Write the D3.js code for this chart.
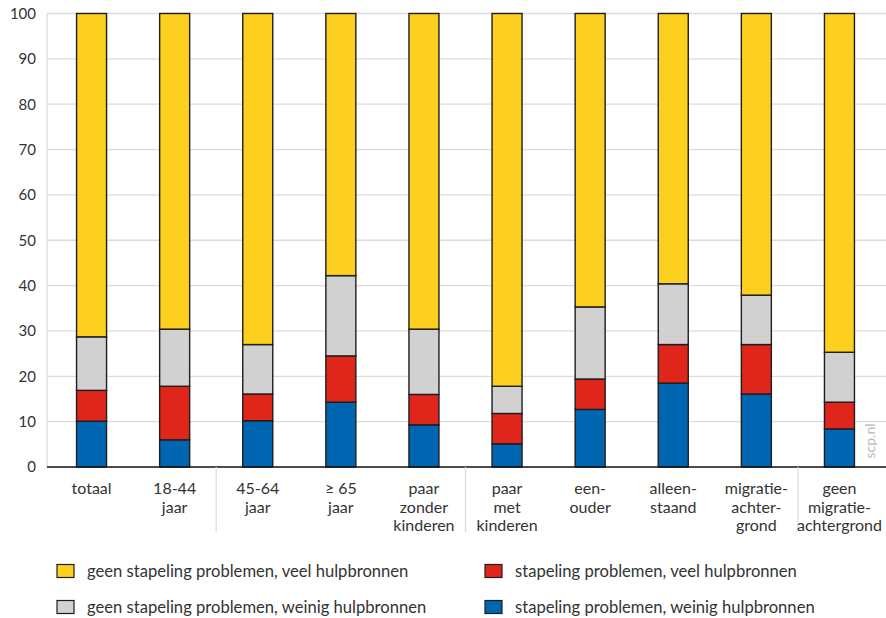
<!DOCTYPE html>
<html>
<head>
<meta charset="utf-8">
<script src="https://cdn.jsdelivr.net/npm/d3@7"></script>
<style>
  html, body { margin: 0; padding: 0; background: #fff; }
  svg { display: block; font-family: Lato, "Open Sans", sans-serif; }
</style>
</head>
<body>
<svg id="chart" width="886" height="618"></svg>
<script>
// ---- data ----
const categories = ["totaal", "18-44\njaar", "45-64\njaar", "≥ 65\njaar", "paar\nzonder\nkinderen",
  "paar\nmet\nkinderen", "een-\nouder", "alleen-\nstaand", "migratie-\nachter-\ngrond", "geen\nmigratie-\nachtergrond"];
const seriesNames = [
  "stapeling problemen, weinig hulpbronnen",
  "stapeling problemen, veel hulpbronnen",
  "geen stapeling problemen, weinig hulpbronnen",
  "geen stapeling problemen, veel hulpbronnen"
];
const blueValues   = [10.1, 6.0, 10.2, 14.3, 9.3, 5.1, 12.7, 18.5, 16.1, 8.4];
const redValues    = [6.8, 11.8, 5.9, 10.2, 6.7, 6.7, 6.7, 8.5, 10.9, 5.9];
const greyValues   = [11.8, 12.6, 10.9, 17.7, 14.4, 6.0, 15.9, 13.4, 10.9, 11.0];
const yellowValues = [71.3, 69.6, 73.0, 57.8, 69.6, 82.2, 64.7, 59.6, 62.1, 74.7];
const yTicks = [0, 10, 20, 30, 40, 50, 60, 70, 80, 90, 100];
const groupBreaks = [1, 4, 8]; // separator after these category indices

const colors = ["#0066b2", "#e0251b", "#d0d1d0", "#fdd020"];

// ---- layout ----
const svg = d3.select("#chart");
const plotLeft = 47, plotRight = 886, y0 = 467, y100 = 13.5;
const x = d3.scaleBand().domain(d3.range(categories.length)).range([50, 881]).paddingInner(0).paddingOuter(0);
const y = d3.scaleLinear().domain([0, 100]).range([y0, y100]);
const barW = 30;

// gridlines
svg.append("g").selectAll("line").data(yTicks.filter(d => d > 0)).join("line")
  .attr("x1", plotLeft).attr("x2", plotRight)
  .attr("y1", d => y(d)).attr("y2", d => y(d))
  .attr("stroke", "#dcdcdc").attr("stroke-width", 1.3);

// y axis vertical line
svg.append("line").attr("x1", plotLeft).attr("x2", plotLeft).attr("y1", y(100)).attr("y2", y0)
  .attr("stroke", "#dcdcdc").attr("stroke-width", 1.3);

// y axis labels via d3 axis
const yAxis = svg.append("g").attr("transform", `translate(${plotLeft},0)`)
  .call(d3.axisLeft(y).tickValues(yTicks).tickSize(0).tickPadding(11));
yAxis.select(".domain").remove();
yAxis.selectAll("text").attr("font-size", 15).attr("fill", "#333").attr("font-family", "Lato, sans-serif");

// stacked bars
const rows = categories.map((c, i) => ({ i, s0: blueValues[i], s1: redValues[i], s2: greyValues[i], s3: yellowValues[i] }));
const stack = d3.stack().keys(["s0", "s1", "s2", "s3"]);
const stacked = stack(rows);

svg.append("g").selectAll("g").data(stacked).join("g")
  .attr("fill", (d, k) => colors[k])
  .selectAll("rect").data(d => d).join("rect")
  .attr("x", d => x(d.data.i) + x.bandwidth() / 2 - barW / 2)
  .attr("width", barW)
  .attr("y", d => y(Math.min(d[1], 100)))
  .attr("height", d => y(d[0]) - y(Math.min(d[1], 100)))
  .attr("stroke", "#1e1e1e").attr("stroke-width", 1.4);

// x axis baseline
svg.append("line").attr("x1", plotLeft).attr("x2", plotRight).attr("y1", y0).attr("y2", y0)
  .attr("stroke", "#111").attr("stroke-width", 1.5);

// group separators
svg.append("g").selectAll("line").data(groupBreaks).join("line")
  .attr("x1", d => x(d) + x.bandwidth()).attr("x2", d => x(d) + x.bandwidth())
  .attr("y1", y0).attr("y2", 532)
  .attr("stroke", "#dcdcdc").attr("stroke-width", 1.3);

// category labels
const lab = svg.append("g").selectAll("text").data(categories).join("text")
  .attr("text-anchor", "middle").attr("font-size", 16).attr("fill", "#333")
  .attr("x", (d, i) => x(i) + x.bandwidth() / 2)
  .attr("y", 494);
lab.selectAll("tspan").data(d => d.split("\n")).join("tspan")
  .attr("x", function () { return d3.select(this.parentNode).attr("x"); })
  .attr("dy", (d, j) => j === 0 ? 0 : 18.5)
  .text(d => d);

// watermark
svg.append("text").attr("transform", "translate(875,441) rotate(-90)")
  .attr("text-anchor", "middle").attr("font-size", 14).attr("fill", "#b8b8b8").text("scp.nl");

// legend
const legendItems = [
  { k: 3, x: 57, y: 571 }, { k: 1, x: 485, y: 571 },
  { k: 2, x: 57, y: 607 }, { k: 0, x: 485, y: 607 }
];
const lg = svg.append("g").selectAll("g").data(legendItems).join("g")
  .attr("transform", d => `translate(${d.x},${d.y})`);
lg.append("rect").attr("x", 0).attr("y", -6.5).attr("width", 17).attr("height", 13)
  .attr("fill", d => colors[d.k]).attr("stroke", "#1e1e1e").attr("stroke-width", 1.2);
lg.append("text").attr("x", 30).attr("y", 0).attr("dy", "0.35em")
  .attr("font-size", 16.6).attr("fill", "#333").text(d => seriesNames[d.k]);
</script>
</body>
</html>
